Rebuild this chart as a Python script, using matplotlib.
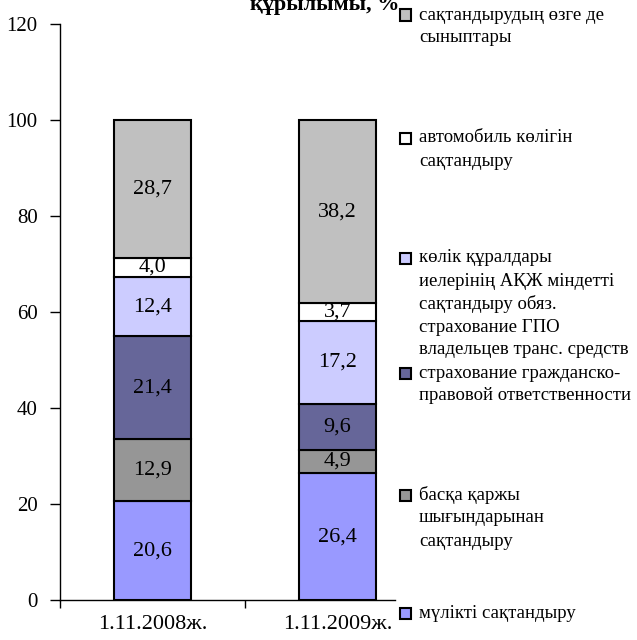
import matplotlib
matplotlib.use("Agg")
import matplotlib.pyplot as plt
from matplotlib.patches import Rectangle

plt.rcParams['font.family'] = ['Liberation Serif', 'DejaVu Serif']

categories = ["1.11.2008ж.", "1.11.2009ж."]
series_names = [
    "мүлікті сақтандыру",
    "басқа қаржы\nшығындарынан\nсақтандыру",
    "страхование гражданско-\nправовой ответственности",
    "көлік құралдары\nиелерінің АҚЖ міндетті\nсақтандыру обяз.\nстрахование ГПО\nвладельцев транс. средств",
    "автомобиль көлігін\nсақтандыру",
    "сақтандырудың өзге де\nсыныптары",
]
values = [
    [20.6, 26.4],
    [12.9, 4.9],
    [21.4, 9.6],
    [12.4, 17.2],
    [4.0, 3.7],
    [28.7, 38.2],
]
value_labels = [
    ["20,6", "26,4"],
    ["12,9", "4,9"],
    ["21,4", "9,6"],
    ["12,4", "17,2"],
    ["4,0", "3,7"],
    ["28,7", "38,2"],
]
colors = ["#9999FF", "#969696", "#666699", "#CCCCFF", "#FFFFFF", "#C0C0C0"]
yticks = [0, 20, 40, 60, 80, 100, 120]
title = "құрылымы, %"

W, H = 637, 640
fig = plt.figure(figsize=(W / 100, H / 100), dpi=100)
ax = fig.add_axes([60 / W, 1 - 600 / H, (395 - 60) / W, (600 - 24) / H])

x = list(range(len(categories)))
bottoms = [0.0] * len(categories)
for vals, labs, col in zip(values, value_labels, colors):
    ax.bar(x, vals, bottom=bottoms, width=0.42, color=col, edgecolor="black",
           linewidth=1.5, zorder=2)
    for i, (v, lab) in enumerate(zip(vals, labs)):
        ax.text(x[i], bottoms[i] + v / 2, lab, ha="center", va="center",
                fontsize=16, zorder=3)
    bottoms = [b + v for b, v in zip(bottoms, vals)]

ax.set_xlim(-0.5, 1.31)
ax.set_ylim(0, 120)
ax.set_yticks(yticks)
ax.set_yticklabels([str(t) for t in yticks], fontsize=15)
ax.set_xticks([-0.5, 0.5])
ax.set_xticklabels([])
ax.set_xticks(x, minor=True)
ax.set_xticklabels(categories, minor=True, fontsize=16)
ax.tick_params(axis="x", which="minor", length=0, pad=11)
ax.tick_params(axis="x", which="major", length=6, width=1, direction="out")
ax.tick_params(axis="y", length=7, width=1, direction="out", pad=9)
for s in ["top", "right"]:
    ax.spines[s].set_visible(False)
for s in ["left", "bottom"]:
    ax.spines[s].set_linewidth(1)

fig.text(250 / W, 1 - 10 / H, title, fontsize=16, fontweight="bold",
         ha="left", va="baseline")

# legend
entry_y = [15, 138, 258, 373, 495, 613]
line_px = 23
order = list(range(len(series_names)))[::-1]
for idx, yy in zip(order, entry_y):
    fig.patches.append(Rectangle((400 / W, 1 - (yy + 5.5) / H), 11 / W, 11 / H,
                                 transform=fig.transFigure, facecolor=colors[idx],
                                 edgecolor="black", linewidth=1.5, zorder=5))
    for k, line in enumerate(series_names[idx].split("\n")):
        fig.text(419 / W, 1 - (yy + k * line_px) / H, line, fontsize=13.5,
                 ha="left", va="center")

fig.savefig("out.png", dpi=100)
